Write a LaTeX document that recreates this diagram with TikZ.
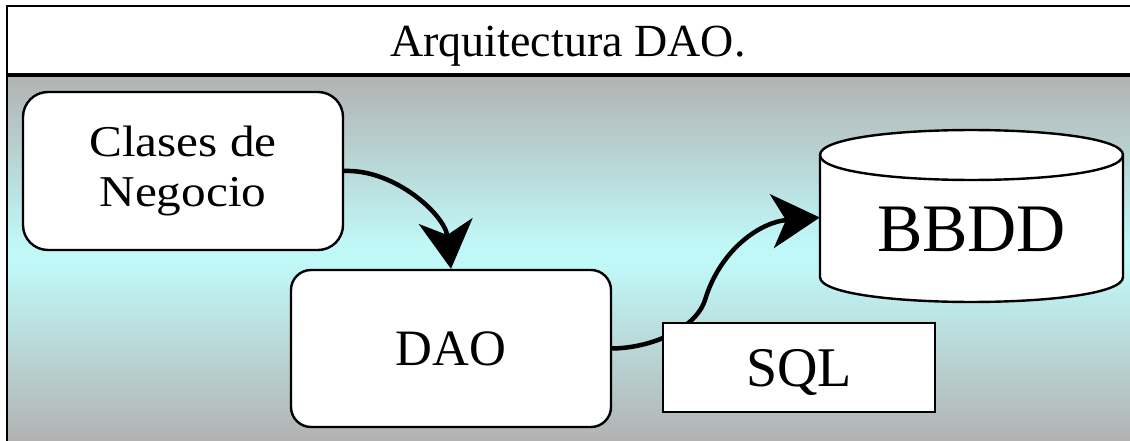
\documentclass[tikz,border=0pt]{standalone}
\usepackage{fontspec}
\setmainfont{Liberation Serif}
\newfontfamily\widefont[FakeStretch=1.12]{Liberation Serif}
\usetikzlibrary{arrows.meta,calc}
\definecolor{bggray}{RGB}{178,178,178}
\definecolor{bgcyan}{RGB}{192,248,248}
\begin{document}
\begin{tikzpicture}[x=1pt,y=-1pt,
  box/.style={draw=black, line width=2.4pt, fill=white, inner sep=0pt, align=center},
  conn/.style={line width=4.5pt, -{Stealth[length=48pt,width=54pt,inset=14pt]}},
  outline/.style={line width=2.4pt}
]
\useasboundingbox (0,0) rectangle (1130,441);
\fill[white] (0,0) rectangle (1130,441);
\fill[white] (7,6) rectangle (1130,75);
\shade[top color=bggray, bottom color=bgcyan] (7,75) rectangle (1130,245);
\fill[bgcyan] (7,245) rectangle (1130,265);
\shade[top color=bgcyan, bottom color=bggray] (7,265) rectangle (1130,441);
\draw[line width=2pt] (7,441) -- (7,6) -- (1130,6);
\draw[line width=4.5pt] (7,75) -- (1130,75);
\node[font=\fontsize{46}{50}\selectfont, anchor=base, inner sep=0pt] (title) at (568,57) {Arquitectura DAO.};

% database cylinder
\filldraw[outline, fill=white] (820,155) -- (820,277) .. controls (820,310.3) and (1123,310.3) .. (1123,277) -- (1123,155) .. controls (1123,121.7) and (820,121.7) .. (820,155) -- cycle;
\draw[outline] (820,155) .. controls (820,188.3) and (1123,188.3) .. (1123,155);
\node[inner sep=0pt, minimum width=303pt, minimum height=96pt, font=\fontsize{68}{72}\selectfont, text depth=0pt] (bbdd) at (971.5,229.5) {BBDD};

\node[box, rounded corners=25pt, minimum width=320pt, minimum height=158pt, font=\widefont\fontsize{44}{50}\selectfont] (clases) at (183,171) {Clases de\\Negocio};
\node[box, rounded corners=20pt, minimum width=320pt, minimum height=157pt, font=\fontsize{51}{55}\selectfont] (dao) at (451,348.5) {DAO};

\draw[conn] (clases.east) .. controls (395,169) and (445,215) .. (dao.north);
\draw[conn] (dao.east) .. controls (650,348) and (695,330) .. (705,300) .. controls (720,250) and (760,222) .. ($(bbdd.west)+(0,-12)$);

\node[box, minimum width=272pt, minimum height=89pt, font=\fontsize{56}{60}\selectfont, text depth=0pt] (sql) at (799,367.5) {SQL};
\end{tikzpicture}
\end{document}
